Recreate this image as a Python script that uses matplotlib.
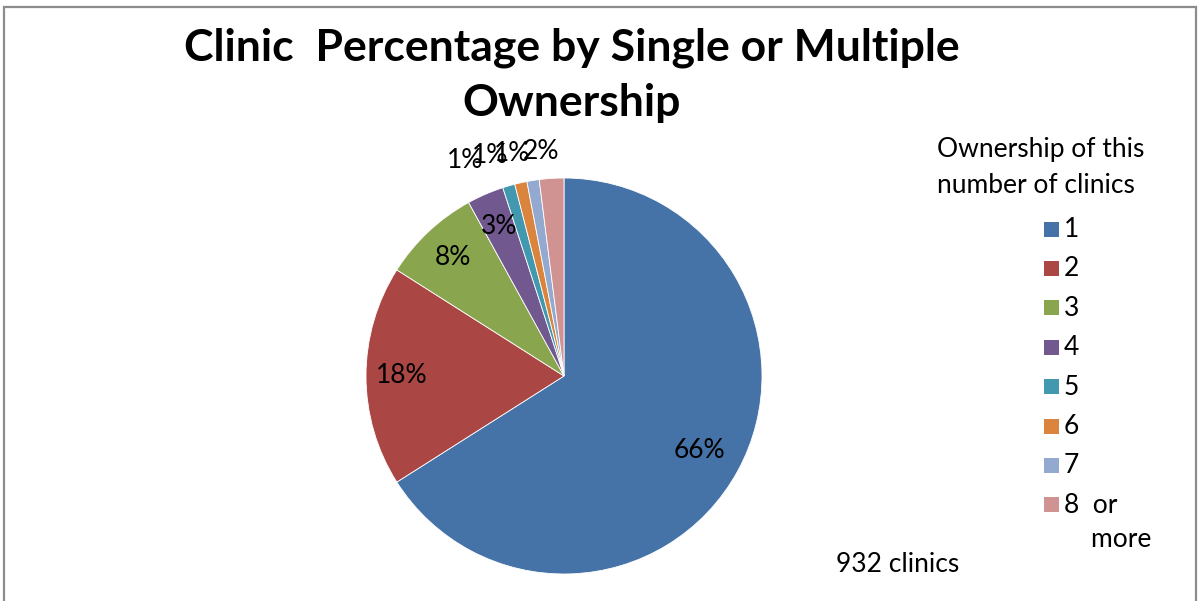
import matplotlib.pyplot as plt
from matplotlib.patches import Rectangle
import numpy as np

plt.rcParams['font.family'] = ['Lato', 'DejaVu Sans']

# number of clinics owned -> share of clinics (%)
categories = ['1', '2', '3', '4', '5', '6', '7', '8  or\n    more']
shares = [66, 18, 8, 3, 1, 1, 1, 2]
colors = ['#4572A7', '#AA4643', '#89A54E', '#71588F',
          '#4198AF', '#DB843D', '#93A9CF', '#D19392']
total_clinics = 932

W, H = 1199, 601
fs = 19
fig = plt.figure(figsize=(W / 100, H / 100), dpi=100)

# outer chart border
fig.patches.append(Rectangle((4 / W, -0.05), 1192 / W, 1.05 - 7 / H,
                             transform=fig.transFigure, fill=False,
                             edgecolor='#8c8c8c', linewidth=1.6))

# pie axes: centre (564, 376) px, radius 198 px
cx, cy, r = 564, 376, 198
ax = fig.add_axes([(cx - r) / W, (H - cy - r) / H, 2 * r / W, 2 * r / H])
wedges, _ = ax.pie(shares, colors=colors, startangle=90, counterclock=False,
                   radius=1, wedgeprops=dict(edgecolor='white', linewidth=0.6))
ax.set_xlim(-1, 1)
ax.set_ylim(-1, 1)
ax.set_aspect('equal')
ax.axis('off')

# percentage labels: big slices inside, small ones crowded above the pie
small_x = [-0.50, -0.375, -0.26, -0.115]
small_y = [1.09, 1.115, 1.125, 1.135]
k = 0
for w, v in zip(wedges, shares):
    ang = np.deg2rad((w.theta1 + w.theta2) / 2)
    if v >= 3:
        d = 0.78 if v > 50 else 0.82
        x, y = d * np.cos(ang), d * np.sin(ang)
    else:
        x, y = small_x[k], small_y[k]
        k += 1
    ax.text(x, y, f'{v}%', ha='center', va='center', fontsize=fs)

fig.text(572 / W, 1 - 48 / H, 'Clinic  Percentage by Single or Multiple',
         ha='center', va='center', fontsize=32, fontweight='bold')
fig.text(572 / W, 1 - 103 / H, 'Ownership',
         ha='center', va='center', fontsize=32, fontweight='bold')

# legend
fig.text(937 / W, 1 - 150 / H, 'Ownership of this', ha='left', va='center', fontsize=fs)
fig.text(937 / W, 1 - 186 / H, 'number of clinics', ha='left', va='center', fontsize=fs)
for i, (lab, col) in enumerate(zip(categories, colors)):
    yc = 229 + i * 39.4
    fig.patches.append(Rectangle((1044 / W, 1 - (yc + 7.5) / H), 15 / W, 15 / H,
                                 transform=fig.transFigure, facecolor=col,
                                 edgecolor='none'))
    fig.text(1064 / W, 1 - (yc - 12) / H, lab, ha='left', va='top',
             fontsize=fs, linespacing=1.45)

fig.text(836 / W, 1 - 565 / H, f'{total_clinics} clinics', ha='left', va='center',
         fontsize=fs)

fig.savefig('out.png', dpi=100)
